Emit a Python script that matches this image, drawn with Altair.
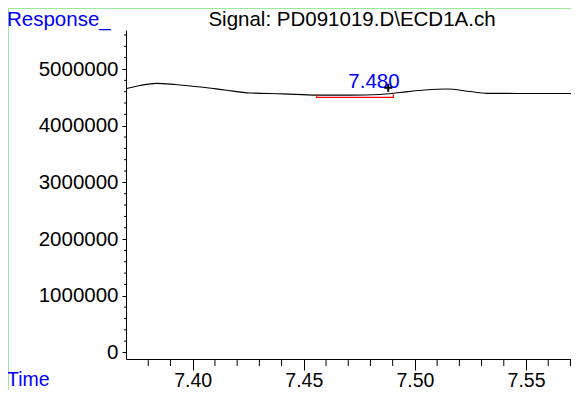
import altair as alt
import pandas as pd

# ---- data ----
time_vals = [7.3703, 7.3763, 7.3839, 7.3920, 7.4033, 7.4145, 7.4258, 7.4406, 7.4559,
             7.4708, 7.4843, 7.4933, 7.5045, 7.5144, 7.5248, 7.5324, 7.5473, 7.5608, 7.5739]
resp_vals = [4656000, 4709000, 4748000, 4727000, 4683000, 4630000, 4577000, 4563000, 4541000,
             4541000, 4550000, 4586000, 4630000, 4647000, 4603000, 4571000, 4568000, 4568000, 4568000]

x_major = [7.40, 7.45, 7.50, 7.55]
y_major = [0, 1000000, 2000000, 3000000, 4000000, 5000000]
x_minor = [7.38, 7.39, 7.41, 7.42, 7.43, 7.44, 7.46, 7.47, 7.48, 7.49,
           7.51, 7.52, 7.53, 7.54, 7.56, 7.57]
y_minor = [200000, 400000, 600000, 800000, 1200000, 1400000, 1600000, 1800000,
           2200000, 2400000, 2600000, 2800000, 3200000, 3400000, 3600000, 3800000,
           4200000, 4400000, 4600000, 4800000, 5200000, 5400000, 5600000]

baseline_time = [7.4558, 7.4558, 7.4903, 7.4903]
baseline_resp = [4554000, 4501000, 4501000, 4554000]

peak_label = ["7.480"]
peak_label_time = [7.4816]
peak_label_resp = [4665000]
apex_time = [7.4880]
apex_resp = [4670000]

title_text = ["Signal: PD091019.D\\ECD1A.ch"]
y_title = ["Response_"]
x_title = ["Time"]

FONT = "Liberation Sans"
FS = 20.5
W, H = 445, 329

xscale = alt.Scale(domain=[7.36998, 7.57025], nice=False, zero=False)
yscale = alt.Scale(domain=[-115000, 5688000], nice=False, zero=False)

sig = pd.DataFrame({"t": time_vals, "r": resp_vals})
line = alt.Chart(sig).mark_line(color="black", strokeWidth=1.2, interpolate="monotone", clip=True).encode(
    x=alt.X("t:Q", scale=xscale,
            axis=alt.Axis(values=x_major, format=".2f", tickSize=11, labelPadding=16,
                          labelBaseline="alphabetic", title=None,
                          labelFontSize=19.5, labelFlush=False, labelOverlap=False)),
    y=alt.Y("r:Q", scale=yscale,
            axis=alt.Axis(values=y_major, format="d", tickSize=4, labelPadding=4, title=None,
                          labelFlush=False, labelOverlap=False)),
)

xminor = alt.Chart(pd.DataFrame({"t": x_minor})).mark_rule(color="black", strokeWidth=1).encode(
    x=alt.X("t:Q", scale=xscale), y=alt.value(H), y2=alt.value(H + 7))
yminor = alt.Chart(pd.DataFrame({"r": y_minor})).mark_rule(color="black", strokeWidth=1).encode(
    y=alt.Y("r:Q", scale=yscale), x=alt.value(-2), x2=alt.value(0))

bl = pd.DataFrame({"t": baseline_time, "r": baseline_resp, "o": [0, 1, 2, 3]})
bracket = alt.Chart(bl).mark_line(color="#ff0000", strokeWidth=1.2).encode(
    x=alt.X("t:Q", scale=xscale), y=alt.Y("r:Q", scale=yscale), order="o:Q")

lab = alt.Chart(pd.DataFrame({"t": peak_label_time, "r": peak_label_resp, "s": peak_label})).mark_text(
    font=FONT, fontSize=FS, color="#0000ff", align="center", baseline="alphabetic").encode(
    x=alt.X("t:Q", scale=xscale), y=alt.Y("r:Q", scale=yscale), text="s:N")

apex = alt.Chart(pd.DataFrame({"t": apex_time, "r": apex_resp})).mark_point(
    shape="M-1,0L1,0M0,-1L0,1", size=64, filled=False, color="black", strokeWidth=2, opacity=1).encode(
    x=alt.X("t:Q", scale=xscale), y=alt.Y("r:Q", scale=yscale))

title = alt.Chart(pd.DataFrame({"s": title_text})).mark_text(
    font=FONT, fontSize=FS, color="black", align="center", baseline="alphabetic").encode(
    x=alt.value(226), y=alt.value(-4.5), text="s:N")
ytitle = alt.Chart(pd.DataFrame({"s": y_title})).mark_text(
    font=FONT, fontSize=FS, color="#0000ff", align="left", baseline="alphabetic").encode(
    x=alt.value(-119), y=alt.value(-4.5), text="s:N")
xtitle = alt.Chart(pd.DataFrame({"s": x_title})).mark_text(
    font=FONT, fontSize=19.5, color="#0000ff", align="left", baseline="alphabetic").encode(
    x=alt.value(-119), y=alt.value(356), text="s:N")

green_top = alt.Chart(pd.DataFrame({"a": [0]})).mark_rule(color="#9be89b", strokeWidth=1).encode(
    x=alt.value(-118), x2=alt.value(W + 10), y=alt.value(-21.5))
green_left = alt.Chart(pd.DataFrame({"a": [0]})).mark_rule(color="#9be89b", strokeWidth=1).encode(
    x=alt.value(-117.5), y=alt.value(-22), y2=alt.value(H + 40))

chart = alt.layer(green_top, green_left, xminor, yminor, line, bracket, lab, apex, title, ytitle, xtitle).properties(
    width=W, height=H,
    padding={"left": 118, "top": 22, "right": 0, "bottom": 31},
    autosize=alt.AutoSizeParams(type="none"),
    background="white",
).configure_view(stroke=None).configure_axis(
    grid=False, labelFont=FONT, labelFontSize=FS, labelColor="black",
    domainColor="black", tickColor="black", domainWidth=1, tickWidth=1,
)

chart.save("out.html", embed_options={"renderer": "svg", "actions": False})
